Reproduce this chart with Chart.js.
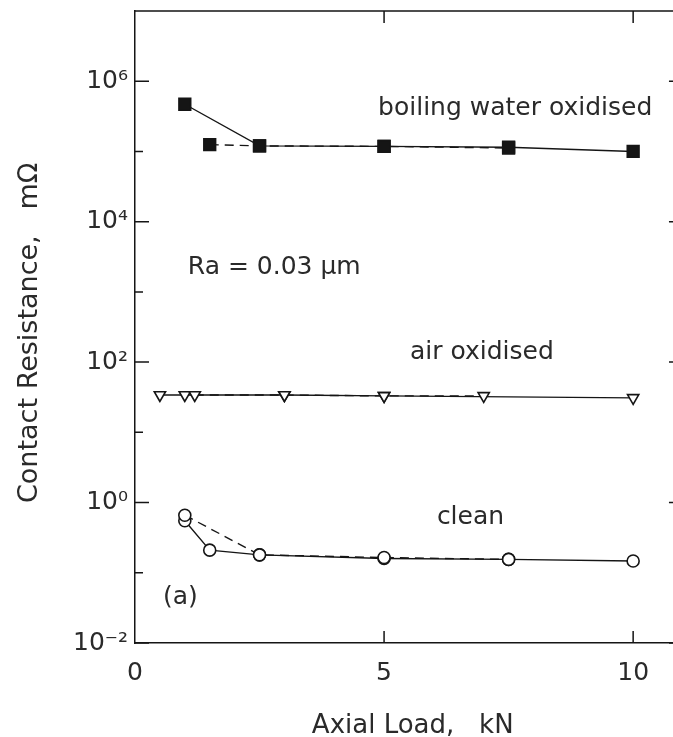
<!DOCTYPE html>
<html>
<head>
<meta charset="utf-8">
<script src="https://cdn.jsdelivr.net/npm/chart.js@4.4.1/dist/chart.umd.min.js"></script>
<style>
  html, body { margin: 0; padding: 0; background: #fff; }
  #wrap { width: 673px; height: 737px; }
</style>
</head>
<body>
<div id="wrap"><canvas id="chart"></canvas></div>
<script>
// values (x: axial load in kN, y: contact resistance in mOhm)
const boilingSolidX = [1, 2.5, 5, 7.5, 10];
const boilingSolidY = [4.7e5, 1.2e5, 1.18e5, 1.15e5, 1.0e5];
const boilingDashX = [1.5, 2.5, 5, 7.5];
const boilingDashY = [1.25e5, 1.2e5, 1.18e5, 1.12e5];

const airSolidX = [0.5, 1.0, 3, 5, 10];
const airSolidY = [34, 34, 34, 33, 31];
const airDashX = [1.2, 3, 5, 7];
const airDashY = [34, 34, 33, 33];

const cleanSolidX = [1.0, 1.5, 2.5, 5, 7.5, 10];
const cleanSolidY = [0.55, 0.21, 0.18, 0.16, 0.155, 0.147];
const cleanDashX = [1.0, 2.5, 5, 7.5];
const cleanDashY = [0.66, 0.18, 0.165, 0.155];

const xTicks = [0, 5, 10];
const yTickPowers = [-2, -1, 0, 1, 2, 3, 4, 5, 6];
const yLabelPowers = [-2, 0, 2, 4, 6];

const notes = [
  { text: 'boiling water oxidised', x: 4.88, y: 4.1e5 },
  { text: 'Ra = 0.03 \u03bcm', x: 1.06, y: 2.2e3 },
  { text: 'air oxidised', x: 5.52, y: 139 },
  { text: 'clean', x: 6.06, y: 0.62 },
  { text: '(a)', x: 0.56, y: 0.045 }
];

const ink = '#151515';
const textInk = '#2a2a2a';
const face = '"DejaVu Sans", sans-serif';
const sup = { '-': '\u207b', '0': '\u2070', '1': '\u00b9', '2': '\u00b2', '3': '\u00b3',
  '4': '\u2074', '5': '\u2075', '6': '\u2076', '7': '\u2077', '8': '\u2078', '9': '\u2079' };

function pts(xs, ys) {
  return xs.map((x, i) => ({ x: x, y: ys[i] }));
}

function series(xs, ys, shape, fill, dashed) {
  const radius = shape === 'rect' ? 8.3 : (shape === 'triangle' ? 6.5 : 6);
  return {
    data: pts(xs, ys),
    showLine: true,
    borderColor: ink,
    borderWidth: 1.4,
    borderDash: dashed ? [9, 6] : [],
    pointStyle: shape,
    pointRotation: shape === 'triangle' ? 180 : 0,
    pointRadius: radius,
    pointHoverRadius: radius,
    pointBackgroundColor: fill,
    pointBorderColor: ink,
    pointBorderWidth: 1.6
  };
}

const frame = {
  id: 'frame',
  afterDraw(chart) {
    const { ctx, chartArea: a, scales: { x, y } } = chart;
    const rightAxis = x.getPixelForValue(11);
    ctx.save();
    ctx.strokeStyle = ink;
    ctx.lineWidth = 1.5;
    ctx.beginPath();
    ctx.moveTo(a.left, a.top);
    ctx.lineTo(a.right, a.top);
    yTickPowers.forEach(p => {
      const py = y.getPixelForValue(Math.pow(10, p));
      const len = p % 2 === 0 ? 14 : 8;
      ctx.moveTo(a.left, py);
      ctx.lineTo(a.left + len, py);
      ctx.moveTo(rightAxis, py);
      ctx.lineTo(rightAxis - len, py);
    });
    xTicks.slice(1).forEach(v => {
      const px = x.getPixelForValue(v);
      ctx.moveTo(px, a.bottom);
      ctx.lineTo(px, a.bottom - 12);
      ctx.moveTo(px, a.top);
      ctx.lineTo(px, a.top + 12);
    });
    ctx.stroke();

    ctx.fillStyle = textInk;
    ctx.font = '25px ' + face;
    ctx.textBaseline = 'middle';
    ctx.textAlign = 'left';
    notes.forEach(n => {
      ctx.fillText(n.text, x.getPixelForValue(n.x), y.getPixelForValue(n.y));
    });

    // axis titles
    ctx.textBaseline = 'alphabetic';
    ctx.textAlign = 'left';
    ctx.font = '26px ' + face;
    ctx.fillText('Axial Load,\u00a0\u00a0\u00a0kN', x.getPixelForValue(3.55), 733);
    ctx.font = '27px ' + face;
    ctx.translate(37, 503);
    ctx.rotate(-Math.PI / 2);
    ctx.fillText('Contact Resistance,\u00a0\u00a0\u00a0m\u03a9', 0, 0);
    ctx.restore();
  }
};

new Chart(document.getElementById('chart'), {
  type: 'scatter',
  data: {
    datasets: [
      series(boilingDashX, boilingDashY, 'rect', ink, true),
      series(boilingSolidX, boilingSolidY, 'rect', ink, false),
      series(airDashX, airDashY, 'triangle', '#fff', true),
      series(airSolidX, airSolidY, 'triangle', '#fff', false),
      series(cleanDashX, cleanDashY, 'circle', '#fff', true),
      series(cleanSolidX, cleanSolidY, 'circle', '#fff', false)
    ]
  },
  options: {
    responsive: true,
    maintainAspectRatio: false,
    animation: false,
    layout: { autoPadding: false, padding: { top: 11, right: 0, left: 0, bottom: 0 } },
    plugins: {
      legend: { display: false },
      tooltip: { enabled: false }
    },
    scales: {
      x: {
        type: 'linear',
        min: 0,
        max: 10.8,
        afterBuildTicks: s => { s.ticks = xTicks.map(v => ({ value: v })); },
        afterFit: s => { s.height = 94; s.paddingLeft = 0; s.paddingRight = 0; },
        ticks: {
          color: textInk,
          font: { family: face, size: 25 },
          padding: 15,
          maxRotation: 0,
          autoSkip: false
        },
        grid: { display: false, drawTicks: false },
        border: { display: true, color: ink, width: 1.5 }
      },
      y: {
        type: 'logarithmic',
        min: 1e-2,
        max: 1e7,
        afterBuildTicks: s => { s.ticks = yTickPowers.map(p => ({ value: Math.pow(10, p) })); },
        afterFit: s => { s.width = 135; s.paddingTop = 0; s.paddingBottom = 0; },
        ticks: {
          color: textInk,
          font: { family: face, size: 25 },
          padding: 7,
          autoSkip: false,
          callback: v => {
            const p = Math.round(Math.log10(v));
            if (!yLabelPowers.includes(p)) return '';
            return '10' + String(p).split('').map(c => sup[c]).join('');
          }
        },
        grid: { display: false, drawTicks: false },
        border: { display: true, color: ink, width: 1.5 }
      }
    }
  },
  plugins: [frame]
});
</script>
</body>
</html>
